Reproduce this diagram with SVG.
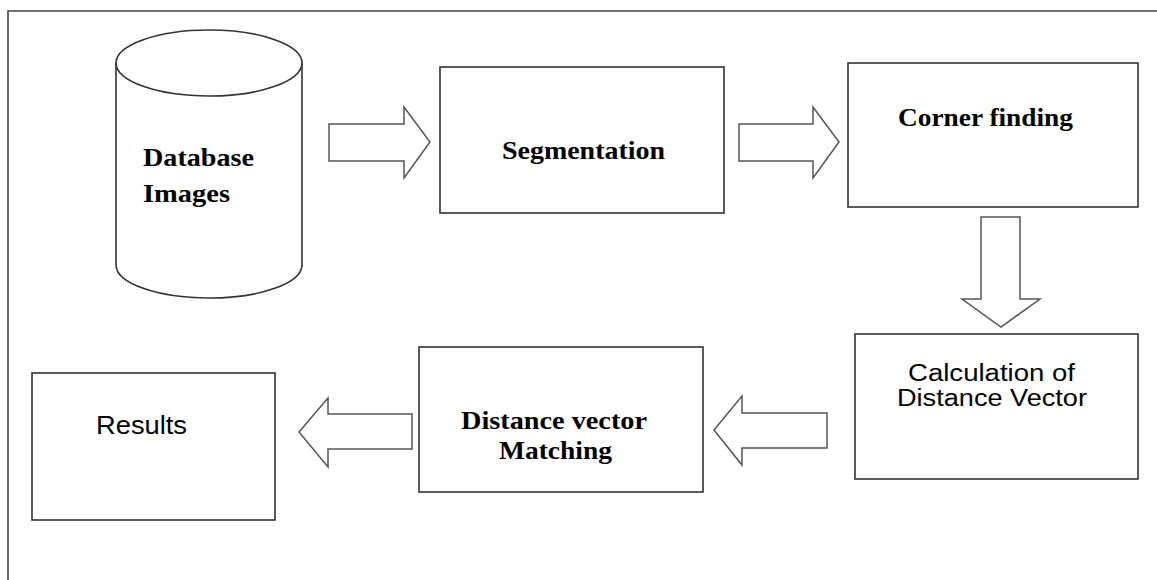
<svg xmlns="http://www.w3.org/2000/svg" width="1157" height="580" viewBox="0 0 1157 580">
<style>
.box{fill:#fff;stroke:#333;stroke-width:1.6}
.arr{fill:#fff;stroke:#555;stroke-width:1.5;stroke-linejoin:miter}
.tb{font-family:"Liberation Serif","Times New Roman",serif;font-weight:bold;font-size:25px;fill:#000}
.ts{font-family:"Liberation Sans",Arial,sans-serif;font-size:26px;fill:#000}
.tc{font-family:"Liberation Sans",Arial,sans-serif;font-size:23px;fill:#000}
</style>
<rect width="1157" height="580" fill="#fff"/>
<path d="M8,600 L8,11 L1170,11" fill="none" stroke="#444" stroke-width="1.6"/>
<g id="database">
<path class="box" d="M116,63 L116,265 A93,33 0 0 0 302,265 L302,63"/>
<ellipse class="box" cx="209" cy="63" rx="93" ry="33"/>
<text class="tb" x="143" y="166" textLength="111" lengthAdjust="spacingAndGlyphs">Database</text>
<text class="tb" x="143" y="202" textLength="87" lengthAdjust="spacingAndGlyphs">Images</text>
</g>
<g id="segmentation">
<rect class="box" x="440" y="67" width="284" height="146"/>
<text class="tb" x="502" y="159" textLength="163" lengthAdjust="spacingAndGlyphs">Segmentation</text>
</g>
<g id="corner">
<rect class="box" x="848" y="63" width="290" height="144"/>
<text class="tb" x="898" y="126" textLength="175" lengthAdjust="spacingAndGlyphs">Corner finding</text>
</g>
<g id="calculation">
<rect class="box" x="855" y="334" width="283" height="145"/>
<text class="tc" x="908" y="381" textLength="167" lengthAdjust="spacingAndGlyphs">Calculation of</text>
<text class="tc" x="897" y="406" textLength="190" lengthAdjust="spacingAndGlyphs">Distance Vector</text>
</g>
<g id="matching">
<rect class="box" x="419" y="347" width="284" height="145"/>
<text class="tb" x="461" y="429" textLength="186" lengthAdjust="spacingAndGlyphs">Distance vector</text>
<text class="tb" x="499" y="459" textLength="113" lengthAdjust="spacingAndGlyphs">Matching</text>
</g>
<g id="results">
<rect class="box" x="32" y="373" width="243" height="147"/>
<text class="ts" x="96" y="434" textLength="91" lengthAdjust="spacingAndGlyphs">Results</text>
</g>
<g id="connectors">
<polygon class="arr" points="329,124 404,124 404,107 430,142 404,178 404,161 329,161"/>
<polygon class="arr" points="739,124 813,124 813,107 839,142 813,178 813,161 739,161"/>
<polygon class="arr" points="981,217 1020,217 1020,299 1040,299 1001,327 962,299 981,299"/>
<polygon class="arr" points="827,413 742,413 742,396 714,430 742,465 742,448 827,448"/>
<polygon class="arr" points="412,414 328,414 328,398 299,432 328,467 328,449 412,449"/>
</g>
</svg>
